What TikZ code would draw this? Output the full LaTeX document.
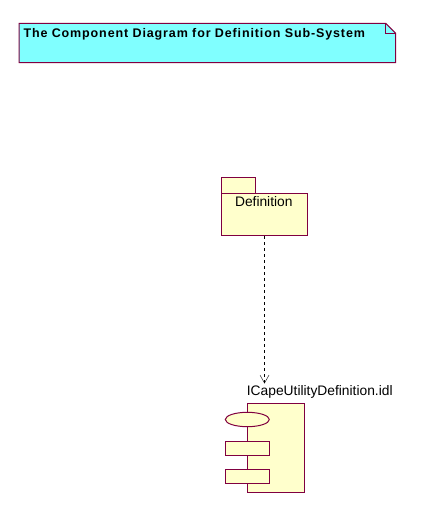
\documentclass[tikz,border=0pt]{standalone}
\usepackage{fontspec}
\setmainfont{Liberation Sans}
\usetikzlibrary{arrows.meta, positioning}
\definecolor{noteblue}{RGB}{128,255,255}
\definecolor{umlred}{RGB}{128,0,64}
\definecolor{umlyellow}{RGB}{255,255,204}

\begin{document}
\begin{tikzpicture}[x=1pt,y=-1pt,
    uml/.style={draw=umlred, fill=umlyellow, line width=1pt},
    umltext/.style={inner sep=0pt, font=\fontsize{13.8}{16}\selectfont}]
  \useasboundingbox (0,0) rectangle (422,518);
  % note
  \filldraw[fill=noteblue, draw=umlred, line width=1pt] (19,23.3) -- (385.7,23.3) -- (395.7,33.3) -- (395.7,62.7) -- (19,62.7) -- cycle;
  \draw[umlred, line width=1pt] (385.7,23.3) -- (385.7,33.3) -- (395.7,33.3);
  \node[anchor=base west, inner sep=0pt, font=\bfseries\fontsize{12.5}{14}\selectfont\addfontfeatures{LetterSpace=7}] (title) at (23.3,37.3) {The Component Diagram for Definition Sub-System};
  % package
  \draw[uml] (221.3,177.3) rectangle (255.7,193.3);
  \node[uml, anchor=north west, minimum width=85.4pt, minimum height=42pt, inner sep=0pt] (defpkg) at (221.3,193.3) {};
  \node[umltext, anchor=base] (defname) at (263.8,207) {Definition};
  % component
  \node[uml, anchor=north west, minimum width=57pt, minimum height=88.4pt, inner sep=0pt] (idl) at (247.3,403.3) {};
  \filldraw[uml] (247.3,419.5) ellipse (22 and 7.2);
  \draw[uml] (225.3,441) rectangle (269.3,455.7);
  \draw[uml] (225.3,469) rectangle (269.3,483.3);
  \node[umltext, anchor=base west] (idlname) at (246.7,395.7) {ICapeUtilityDefinition.idl};
  % dependency
  \draw[dash pattern=on 3pt off 3pt, shorten >=2pt, -{Straight Barb[length=8pt, width=9pt]}]
    (defpkg.south) -- (defpkg.south |- idlname.north);
\end{tikzpicture}
\end{document}
